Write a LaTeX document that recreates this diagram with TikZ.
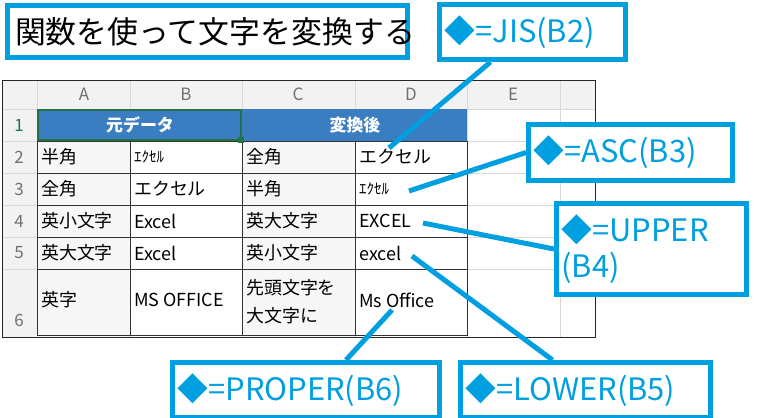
\documentclass[tikz,border=0pt]{standalone}
\usepackage{fontspec}
\setmainfont{Noto Sans CJK JP}
\usetikzlibrary{positioning}
\definecolor{callcyan}{HTML}{009FE0}
\definecolor{headblue}{HTML}{3A7DC0}
\definecolor{selgreen}{HTML}{217346}
\definecolor{gridgray}{HTML}{D9D9D9}
\definecolor{headgray}{HTML}{F2F2F2}
\definecolor{labgray}{HTML}{707070}
\tikzset{
  callout/.style={draw=callcyan, line width=5bp, fill=white, text=callcyan, inner sep=5bp,
    font=\fontsize{31}{36}\selectfont, anchor=north west, align=left},
  leader/.style={callcyan, line width=5bp},
  cell/.style={anchor=west, inner sep=2bp, font=\fontsize{18}{28}\selectfont, align=left},
  hankaku/.style={cell, font=\fontsize{15}{18}\selectfont},
  colhead/.style={text=labgray, font=\fontsize{17}{20}\selectfont},
}
\begin{document}
\begin{tikzpicture}[x=1bp, y=-1bp, line cap=butt]
\useasboundingbox (0,0) rectangle (783,417);

% sheet
\fill[headgray] (2,80) rectangle (595,109);
\fill[headgray] (2,80) rectangle (37,337);
\foreach \x in {37,130,242,355,467,560}
  \draw[gridgray] (\x,80) -- (\x,337);
\foreach \y in {109,141,173,205,237,269}
  \draw[gridgray] (2,\y) -- (595,\y);
\fill[headblue] (37,109) rectangle (467,141);
\fill[headgray!60] (37,141) rectangle (130,337);
\fill[headgray!60] (242,141) rectangle (355,337);
\draw[black!80] (37,141) rectangle (467,335);
\foreach \x in {130,242,355}
  \draw[black!80] (\x,141) -- (\x,335);
\foreach \y in {173,205,237,269}
  \draw[black!80] (37,\y) -- (467,\y);
\draw[selgreen, line width=2bp] (38,110) rectangle (241,140);
\fill[selgreen] (238,137) rectangle (244,143);
\draw[black!85] (2,80) rectangle (595,337);

% column and row labels
\node[colhead] (hA) at (84,94) {A};
\node[colhead] (hB) at (186,94) {B};
\node[colhead] (hC) at (298,94) {C};
\node[colhead] (hD) at (411,94) {D};
\node[colhead] (hE) at (513,94) {E};
\node[colhead, text=selgreen] (r1) at (19,125) {1};
\node[colhead] (r2) at (19,157) {2};
\node[colhead] (r3) at (19,189) {3};
\node[colhead] (r4) at (19,221) {4};
\node[colhead] (r5) at (19,253) {5};
\node[colhead] (r6) at (19,320) {6};

% header row
\node[text=white, font=\fontsize{17}{20}\selectfont\bfseries] (src) at (140,125) {元データ};
\node[text=white, font=\fontsize{17}{20}\selectfont\bfseries] (dst) at (355,125) {変換後};

% cells
\node[cell] (a2) at (39,157) {半角};
\node[hankaku] (b2) at (132,157) {ｴｸｾﾙ};
\node[cell] (c2) at (244,157) {全角};
\node[cell] (d2) at (357,157) {エクセル};
\node[cell] (a3) at (39,189) {全角};
\node[cell] (b3) at (132,189) {エクセル};
\node[cell] (c3) at (244,189) {半角};
\node[hankaku] (d3) at (357,189) {ｴｸｾﾙ};
\node[cell] (a4) at (39,221) {英小文字};
\node[cell] (b4) at (132,221) {Excel};
\node[cell] (c4) at (244,221) {英大文字};
\node[cell] (d4) at (357,221) {EXCEL};
\node[cell] (a5) at (39,253) {英大文字};
\node[cell] (b5) at (132,253) {Excel};
\node[cell] (c5) at (244,253) {英小文字};
\node[cell] (d5) at (357,253) {excel};
\node[cell] (a6) at (39,300) {英字};
\node[cell] (b6) at (132,300) {MS OFFICE};
\node[cell] (c6) at (244,302) {先頭文字を\\大文字に};
\node[cell] (d6) at (357,300) {Ms Office};

% leader ends
\coordinate (pJIS) at (389,148);
\coordinate (pASC) at (409,191);
\coordinate (pUPP) at (423,223);
\coordinate (pLOW) at (412,256);
\coordinate (pPRO) at (392,310);

% callouts
\node[callout, text=black, minimum width=400bp, minimum height=52bp, text width=385bp] (title) at (5,3) {関数を使って文字を変換する};
\node[callout, minimum height=55bp, text width=176bp] (jis) at (437,2) {◆=JIS(B2)};
\node[callout, minimum height=56bp, text width=194bp] (asc) at (526,122) {◆=ASC(B3)};
\node[callout, minimum height=91bp, text width=180bp] (upp) at (554,201) {◆=UPPER\\(B4)};
\node[callout, minimum height=55bp, text width=240bp] (low) at (458,360) {◆=LOWER(B5)};
\node[callout, minimum height=55bp, text width=257bp] (pro) at (170,360) {◆=PROPER(B6)};

% leaders
\draw[leader] (jis.south) ++(-42,0) -- (pJIS);
\draw[leader] (asc.west) -- (pASC);
\draw[leader] (upp.west) -- (pUPP);
\draw[leader] (low.north) ++(-33,0) -- (pLOW);
\draw[leader] (pro.north) ++(40,0) -- (pPRO);
\end{tikzpicture}
\end{document}
